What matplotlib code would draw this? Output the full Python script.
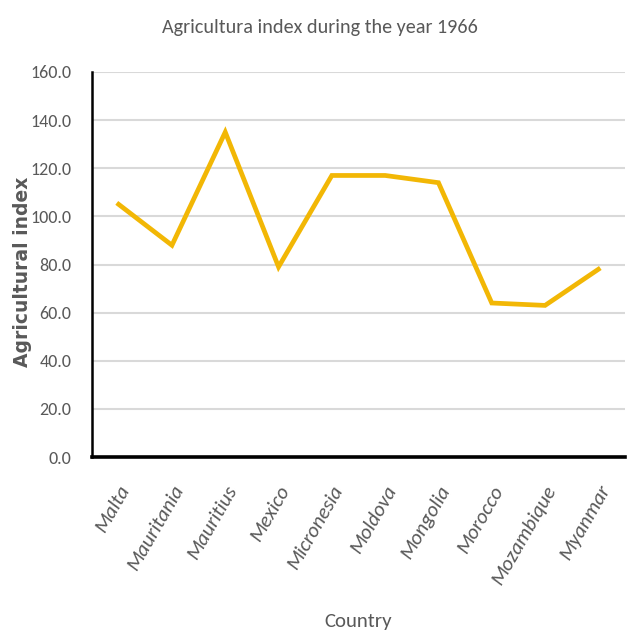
import matplotlib.pyplot as plt
from matplotlib import font_manager

countries = ["Malta", "Mauritania", "Mauritius", "Mexico", "Micronesia",
             "Moldova", "Mongolia", "Morocco", "Mozambique", "Myanmar"]
index_values = [105, 88, 135, 79, 117, 117, 114, 64, 63, 78]
y_ticks = [0, 20, 40, 60, 80, 100, 120, 140, 160]

names = {f.name for f in font_manager.fontManager.ttflist}
calibri = "Carlito" if "Carlito" in names else "DejaVu Sans"
grey = "#595959"

fig = plt.figure(figsize=(6.4, 6.4), dpi=100)
ax = fig.add_axes([92 / 640, 1 - 457 / 640, 533 / 640, 385 / 640])

ax.plot(range(len(countries)), index_values, color="#F2B705", linewidth=3.4,
        solid_joinstyle="miter")

ax.set_xlim(-0.5, len(countries) - 0.5)
ax.set_ylim(0, 160)
ax.set_yticks(y_ticks)
ax.set_yticklabels([f"{v:.1f}" for v in y_ticks], fontfamily=calibri,
                   fontsize=13, color=grey)
ax.set_xticks(range(len(countries)))
ax.set_xticklabels(countries, rotation=60, ha="right", rotation_mode="anchor",
                   fontfamily=calibri, fontsize=15, color=grey,
                   style="italic")
ax.tick_params(axis="y", length=0, pad=15)
ax.tick_params(axis="x", length=0, pad=18)

ax.grid(axis="y", color="#D9D9D9", linewidth=1.5)
ax.set_axisbelow(True)
for s in ["top", "right"]:
    ax.spines[s].set_visible(False)
ax.spines["left"].set_color("black")
ax.spines["left"].set_linewidth(1.8)
ax.spines["bottom"].set_color("black")
ax.spines["bottom"].set_linewidth(2.6)

ax.set_ylabel("Agricultural index", fontfamily="DejaVu Sans", fontsize=13.5,
              color=grey, fontweight="bold")
ax.yaxis.set_label_coords((32 - 92) / 533, 0.48)
ax.set_xlabel("Country", fontfamily=calibri, fontsize=15, color=grey)
ax.xaxis.set_label_coords(0.5, (457 - 613) / 385)
fig.text(0.5, 1 - 28 / 640, "Agricultura index during the year 1966",
         ha="center", va="center", fontfamily=calibri, fontsize=14.5,
         color=grey)

fig.savefig("out.png", dpi=100)
